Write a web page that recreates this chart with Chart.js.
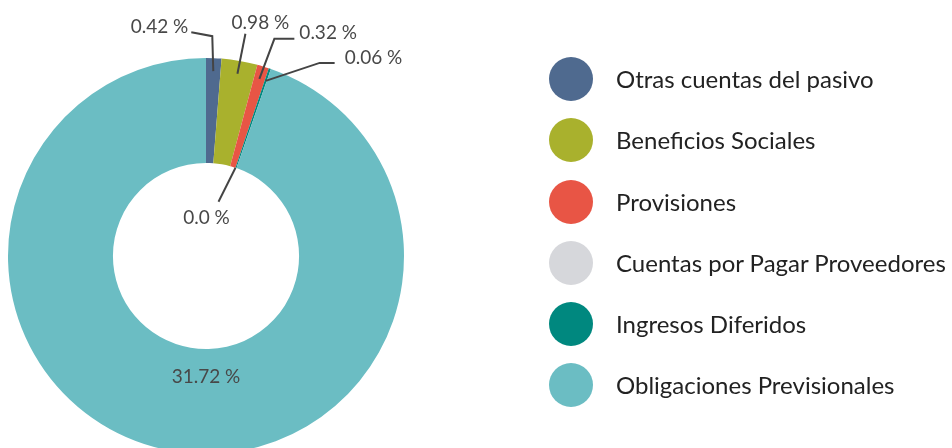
<!DOCTYPE html>
<html>
<head>
<meta charset="utf-8">
<script src="https://cdn.jsdelivr.net/npm/chart.js@4/dist/chart.umd.min.js"></script>
<style>
  html, body { margin: 0; padding: 0; background: #fff; overflow: hidden; }
  #wrap { position: relative; width: 952px; height: 448px; overflow: hidden; }
  #chart { position: absolute; left: 0; top: 0; }
  #legend { position: absolute; left: 549px; top: 57px; margin: 0; padding: 0; list-style: none;
    font-family: Lato, sans-serif; font-weight: 400; font-size: 24px; color: #222; }
  #legend li { height: 61.3px; display: flex; align-items: flex-start; }
  #legend .dot { width: 44px; height: 44px; border-radius: 50%; flex: none; }
  #legend .txt { margin-left: 23px; line-height: 44px; white-space: nowrap; }
</style>
</head>
<body>
<div id="wrap">
  <canvas id="chart" width="952" height="520"></canvas>
  <ul id="legend"></ul>
</div>
<script>
const categories = [
  'Otras cuentas del pasivo',
  'Beneficios Sociales',
  'Provisiones',
  'Cuentas por Pagar Proveedores',
  'Ingresos Diferidos',
  'Obligaciones Previsionales'
];
const values = [0.42, 0.98, 0.32, 0.0, 0.06, 31.72];
const valueLabels = ['0.42 %', '0.98 %', '0.32 %', '0.0 %', '0.06 %', '31.72 %'];
const colors = ['#4f6a8f', '#a9b12d', '#e85545', '#d6d7db', '#00887f', '#6bbdc3'];

// Leader line layout per slice: where the line starts (outer/inner edge), bends, and where text sits
const labelLayout = [
  { from: 'outer', path: [[-1, -35], [-22, -39]], text: [-3, -5], align: 'right' },
  { from: 'outer', path: [[8, -40]], text: [15, -11], align: 'center' },
  { from: 'outer', path: [[15, -40], [35, -40]], text: [5, -6], align: 'left' },
  { from: 'inner', path: [[-17, 34]], text: [-12, 16], align: 'center' },
  { from: 'outer', path: [[54, -18], [69, -18]], text: [10, -5], align: 'left' },
  { from: 'center', path: [], text: [0, 0], align: 'center' }
];

const legend = document.getElementById('legend');
categories.forEach((c, i) => {
  const li = document.createElement('li');
  li.innerHTML = '<span class="dot" style="background:' + colors[i] + '"></span><span class="txt">' + c + '</span>';
  legend.appendChild(li);
});

const leaderLabels = {
  id: 'leaderLabels',
  afterDatasetsDraw(chart) {
    const ctx = chart.ctx;
    const meta = chart.getDatasetMeta(0);
    ctx.save();
    ctx.font = '19px Lato, sans-serif';
    ctx.fillStyle = '#484848';
    ctx.strokeStyle = '#444';
    ctx.lineWidth = 2;
    ctx.textBaseline = 'middle';
    meta.data.forEach((arc, i) => {
      const p = arc.getProps(['x', 'y', 'startAngle', 'endAngle', 'innerRadius', 'outerRadius'], true);
      const mid = (p.startAngle + p.endAngle) / 2;
      const lay = labelLayout[i];
      let ax, ay;
      if (lay.from === 'center') {
        const r = (p.innerRadius + p.outerRadius) / 2;
        ax = p.x;
        ay = p.y + r - 25;
      } else {
        const r = lay.from === 'outer' ? p.outerRadius - 13 : p.innerRadius;
        ax = p.x + Math.cos(mid) * r;
        ay = p.y + Math.sin(mid) * r;
      }
      let ex = ax, ey = ay;
      if (lay.path.length) {
        ctx.beginPath();
        ctx.moveTo(ax, ay);
        lay.path.forEach(([dx, dy]) => {
          ex = ax + dx; ey = ay + dy;
          ctx.lineTo(ex, ey);
        });
        ctx.stroke();
      }
      ctx.textAlign = lay.align;
      ctx.fillText(valueLabels[i], ex + lay.text[0], ey + lay.text[1]);
    });
    ctx.restore();
  }
};

new Chart(document.getElementById('chart'), {
  type: 'doughnut',
  data: {
    labels: categories,
    datasets: [{
      data: values,
      backgroundColor: colors,
      borderWidth: 0
    }]
  },
  options: {
    responsive: false,
    animation: false,
    cutout: '47%',
    layout: { padding: { left: 8, top: 58, right: 548, bottom: 66 } },
    plugins: {
      legend: { display: false },
      tooltip: { enabled: false }
    }
  },
  plugins: [leaderLabels]
});
</script>
</body>
</html>
